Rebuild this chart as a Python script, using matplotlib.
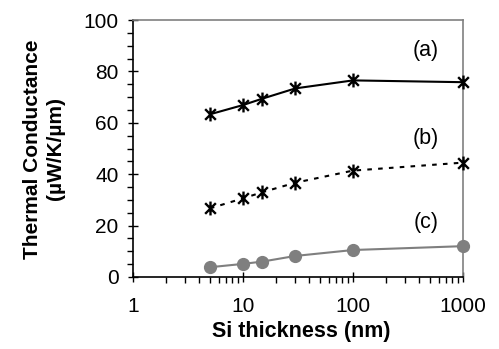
import matplotlib
matplotlib.use("Agg")
import matplotlib.pyplot as plt
from matplotlib.path import Path
from matplotlib.ticker import LogLocator, FixedLocator, MultipleLocator, NullFormatter

plt.rcParams['font.family'] = ['Liberation Sans', 'DejaVu Sans']

thickness = [5, 10, 15, 30, 100, 1000]
series_a = [63.3, 66.9, 69.4, 73.4, 76.5, 75.8]
series_b = [26.7, 30.6, 33.0, 36.7, 41.4, 44.5]
series_c = [3.8, 5.1, 6.0, 8.2, 10.5, 12.0]
labels = ["(a)", "(b)", "(c)"]
xticks = [1, 10, 100, 1000]
xticklabels = ["1", "10", "100", "1000"]
yticks = [0, 20, 40, 60, 80, 100]

ast = Path([(-1, -1), (1, 1), (-1, 1), (1, -1), (0, -1.3), (0, 1.3)],
           [Path.MOVETO, Path.LINETO, Path.MOVETO, Path.LINETO, Path.MOVETO, Path.LINETO])

fig = plt.figure(figsize=(4.99, 3.49), dpi=100)
ax = fig.add_axes([133/499, 1-277/349, (463-133)/499, (277-20)/349])

ax.plot(thickness, series_a, color='black', lw=1.5, marker=ast, ms=10, mew=1.7,
        clip_on=False, zorder=3)
ax.plot(thickness, series_b, color='black', lw=1.5, ls=(0, (2.2, 3)), marker=ast, ms=10,
        mew=1.7, clip_on=False, zorder=3)
ax.plot(thickness, series_c, color='#7f7f7f', lw=1.5, marker='o', ms=8.5,
        clip_on=False, zorder=3)

ax.set_xscale('log')
ax.set_xlim(1, 1000)
ax.set_ylim(0, 100)
ax.xaxis.set_major_locator(FixedLocator(xticks))
ax.set_xticklabels(xticklabels)
ax.xaxis.set_minor_locator(LogLocator(base=10, subs=range(2, 10)))
ax.xaxis.set_minor_formatter(NullFormatter())
ax.yaxis.set_major_locator(FixedLocator(yticks))
ax.yaxis.set_minor_locator(MultipleLocator(5))

ax.tick_params(axis='both', which='major', direction='inout', length=7, width=1,
               labelsize=15, color='black')
ax.tick_params(axis='both', which='minor', direction='out', length=4, width=1, color='black')
ax.tick_params(axis='x', which='major', pad=11)
ax.tick_params(axis='y', which='major', pad=7)

for s in ['left', 'bottom']:
    ax.spines[s].set_color('black')
    ax.spines[s].set_linewidth(1.2)
for s in ['top', 'right']:
    ax.spines[s].set_color('#808080')
    ax.spines[s].set_linewidth(1.2)

ax.text(0.888, 0.883, labels[0], transform=ax.transAxes, fontsize=15.5, ha='center', va='center')
ax.text(0.888, 0.54, labels[1], transform=ax.transAxes, fontsize=15.5, ha='center', va='center')
ax.text(0.888, 0.214, labels[2], transform=ax.transAxes, fontsize=15.5, ha='center', va='center')

fig.text(301/499, 1-331/349, "Si thickness (nm)", fontsize=15.5, fontweight='bold',
         ha='center', va='center')
fig.text(44/499, 1-149/349, "Thermal Conductance\n(µW/K/µm)", fontsize=15, fontweight='bold',
         rotation=90, ha='center', va='center', linespacing=1.2)

fig.savefig("out.png", dpi=100)
